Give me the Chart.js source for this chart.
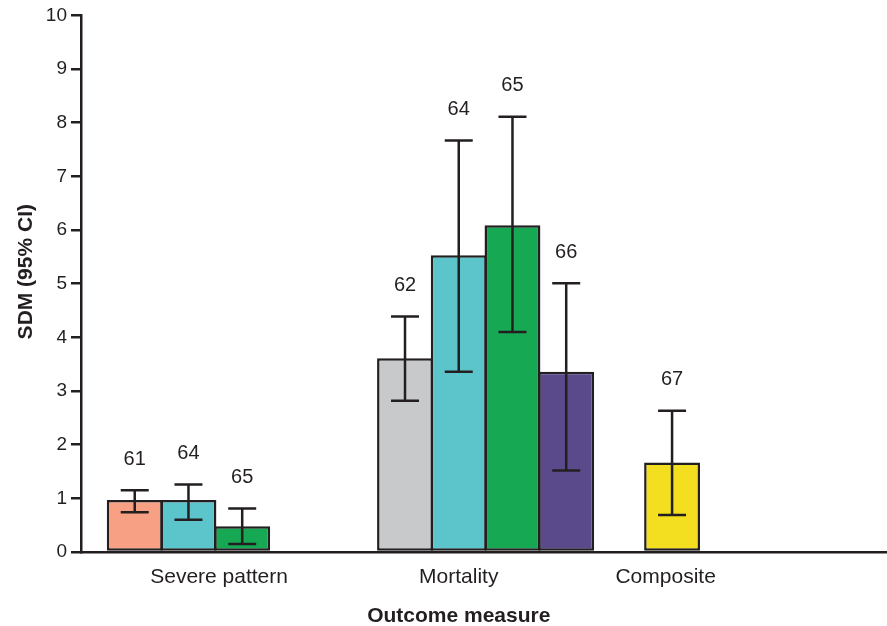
<!DOCTYPE html>
<html>
<head>
<meta charset="utf-8">
<script src="https://cdn.jsdelivr.net/npm/chart.js@4/dist/chart.umd.min.js"></script>
<style>
  html, body { margin: 0; padding: 0; background: #fff; }
  #wrap { width: 887px; height: 626px; }
</style>
</head>
<body>
<div id="wrap"><canvas id="c" width="887" height="626"></canvas></div>
<script>
// ---- data ----
const categories = ['Severe pattern', 'Mortality', 'Composite'];
const barGroups  = [0, 0, 0, 1, 1, 1, 1, 2];
const barLabels  = ['61', '64', '65', '62', '64', '65', '66', '67'];
const sdmValues  = [0.97, 0.97, 0.48, 3.61, 5.53, 6.09, 3.36, 1.67];
const ciLower    = [0.74, 0.60, 0.15, 2.82, 3.36, 4.10, 1.52, 0.69];
const ciUpper    = [1.15, 1.26, 0.81, 4.39, 7.67, 8.11, 5.01, 2.63];
const yTicks     = [0, 1, 2, 3, 4, 5, 6, 7, 8, 9, 10];
const xTitle     = 'Outcome measure';
const yTitle     = 'SDM (95% CI)';

// ---- layout (slot positions on the x axis) ----
const groupStart   = [1, 6.03, 11];
const categoryPos  = [2.57, 7.03, 10.88];
const barColors = ['#f7a083', '#5cc5cc', '#17a854', '#c8c9cb', '#5cc5cc', '#17a854', '#5a4a8c', '#f3df1f'];
const ink = '#231f20';
const FONT = "'Liberation Sans', Arial, Helvetica, sans-serif";

const counters = {};
const barX = barGroups.map(g => {
  counters[g] = (counters[g] || 0);
  const x = groupStart[g] + counters[g];
  counters[g]++;
  return x;
});

const points = sdmValues.map((v, i) => ({ x: barX[i], y: v }));

Chart.defaults.font.family = FONT;
Chart.defaults.color = ink;

const errorBarPlugin = {
  id: 'errorBars',
  afterDatasetsDraw(chart) {
    const { ctx, scales: { x, y } } = chart;
    const meta = chart.getDatasetMeta(0);
    ctx.save();
    ctx.strokeStyle = ink;
    ctx.lineWidth = 2.5;
    ctx.fillStyle = ink;
    ctx.font = "20px " + FONT;
    ctx.textAlign = 'center';
    ctx.textBaseline = 'middle';
    meta.data.forEach((bar, i) => {
      const cx = bar.x;
      const yl = y.getPixelForValue(ciLower[i]);
      const yu = y.getPixelForValue(ciUpper[i]);
      const half = 14;
      ctx.beginPath();
      ctx.moveTo(cx, yl); ctx.lineTo(cx, yu);
      ctx.moveTo(cx - half, yl); ctx.lineTo(cx + half, yl);
      ctx.moveTo(cx - half, yu); ctx.lineTo(cx + half, yu);
      ctx.stroke();
      ctx.fillText(barLabels[i], cx, yu - 31);
    });
    ctx.restore();
  }
};

const axisTitlePlugin = {
  id: 'axisTitles',
  afterDraw(chart) {
    const { ctx, scales: { x, y } } = chart;
    ctx.save();
    ctx.fillStyle = ink;
    ctx.font = "bold 21px " + FONT;
    ctx.textAlign = 'center';
    ctx.textBaseline = 'middle';
    // x title centred under the middle category
    ctx.fillText(xTitle, x.getPixelForValue(categoryPos[1]), x.bottom - 10);
    // y title rotated
    ctx.translate(26, (y.top + y.bottom) / 2 - 12);
    ctx.rotate(-Math.PI / 2);
    ctx.fillText(yTitle, 0, 0);
    ctx.restore();
  }
};

new Chart(document.getElementById('c'), {
  type: 'bar',
  data: {
    datasets: [{
      data: points,
      backgroundColor: barColors,
      borderColor: ink,
      borderWidth: 2.5,
      borderSkipped: false,
      barPercentage: 1.04,
      categoryPercentage: 1.0
    }]
  },
  options: {
    responsive: false,
    animation: false,
    layout: { padding: { top: 15, right: 0, bottom: 0, left: 0 } },
    plugins: { legend: { display: false }, tooltip: { enabled: false } },
    scales: {
      x: {
        type: 'linear',
        min: 0,
        max: 15,
        offset: false,
        afterBuildTicks: s => { s.ticks = categoryPos.map(v => ({ value: v })); },
        afterFit: s => { s.height = 74; },
        grid: { display: true, drawOnChartArea: false, drawTicks: false },
        border: { display: true, color: ink, width: 2.5 },
        ticks: {
          autoSkip: false,
          maxRotation: 0,
          padding: 13,
          font: { size: 21 },
          color: ink,
          callback: (v, i) => categories[i]
        },
        title: { display: false, text: xTitle }
      },
      y: {
        min: 0,
        max: 10,
        afterBuildTicks: s => { s.ticks = yTicks.map(v => ({ value: v })); },
        afterFit: s => { s.width = 81; },
        grid: { drawOnChartArea: false, drawTicks: true, tickLength: 10, color: ink, lineWidth: 2.5 },
        border: { display: true, color: ink, width: 2.5 },
        ticks: { padding: 4, font: { size: 19 }, color: ink },
        title: { display: false, text: yTitle }
      }
    }
  },
  plugins: [errorBarPlugin, axisTitlePlugin]
});
</script>
</body>
</html>
